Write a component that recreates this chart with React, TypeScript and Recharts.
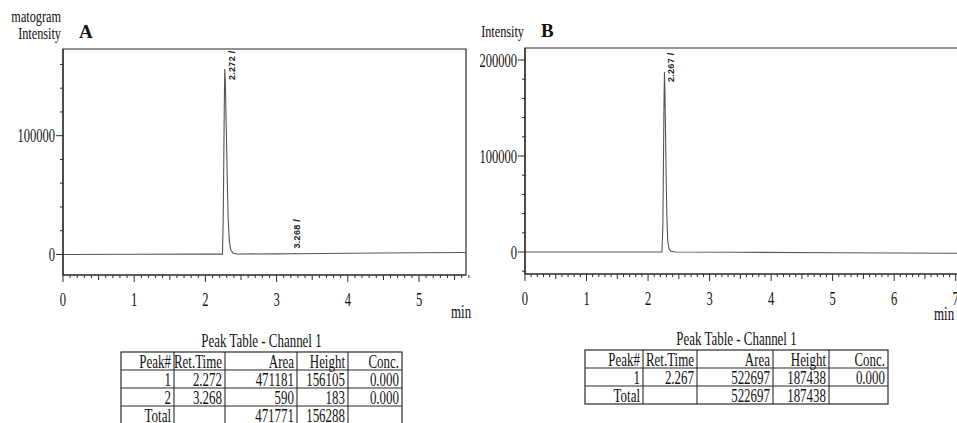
import React from 'react';
import {
  ComposedChart,
  Line,
  Scatter,
  XAxis,
  YAxis,
  ReferenceArea,
} from 'recharts';

// chromatogram A
const timeA = [0, 1.0, 2.0, 2.24, 2.25, 2.258, 2.265, 2.272, 2.28, 2.29, 2.3, 2.31, 2.32, 2.335, 2.355, 2.39, 2.45, 3.0, 3.24, 3.268, 3.3, 4.0, 5.0, 5.66];
const intensityA = [0, 200, 300, 300, 30000, 78000, 125000, 156105, 145000, 115000, 85000, 55000, 30000, 12000, 4000, 1000, 400, 500, 600, 783, 650, 1000, 1400, 1700];

// chromatogram B
const timeB = [0, 1.0, 2.0, 2.225, 2.24, 2.25, 2.258, 2.267, 2.275, 2.285, 2.295, 2.305, 2.32, 2.34, 2.37, 2.45, 3.5, 5.0, 6.0, 7.2];
const intensityB = [0, 0, 0, 0, 25000, 90000, 150000, 187438, 165000, 120000, 75000, 38000, 12000, 3500, 800, 0, -300, -700, -1000, -1400];

const peakTimesA = [2.272, 3.268];
const peakHeightsA = [156105, 783];
const peakNamesA = ['2.272 /', '3.268 /'];
const peakTimesB = [2.267];
const peakHeightsB = [187438];
const peakNamesB = ['2.267 /'];

const xLabelsA = [0, 1, 2, 3, 4, 5];
const xLabelsB = [0, 1, 2, 3, 4, 5, 6, 7];
const yTicksA = [0, 20000, 40000, 60000, 80000, 100000, 120000, 140000, 160000];
const yLabelsA = [0, 100000];
const yTicksB = [-20000, 0, 20000, 40000, 60000, 80000, 100000, 120000, 140000, 160000, 180000, 200000];
const yLabelsB = [0, 100000, 200000];

const tableHeaders = ['Peak#', 'Ret.Time', 'Area', 'Height', 'Conc.'];
const rowsA = [
  ['1', '2.272', '471181', '156105', '0.000'],
  ['2', '3.268', '590', '183', '0.000'],
  ['Total', '', '471771', '156288', ''],
];
const rowsB = [
  ['1', '2.267', '522697', '187438', '0.000'],
  ['Total', '', '522697', '187438', ''],
];

const INK = '#2a2a2a';
const SERIF = '"Liberation Serif", "DejaVu Serif", serif';
const SANS = '"Liberation Sans", Arial, sans-serif';
const SQUEEZE = 0.7;
const AXIS_SQUEEZE = 0.66;

const tenths = (max: number) => Array.from({ length: Math.round(max * 10) + 1 }, (_, i) => i / 10);

const near = (a: number, b: number) => Math.abs(a - b) < 1e-6;

const makeXTick = (labels: number[]) => (props: any) => {
  const { x, y, payload } = props;
  const v = payload.value as number;
  const isMajor = labels.some((l) => near(l, v));
  const isHalf = near(v * 2, Math.round(v * 2));
  const len = isMajor ? 7 : isHalf ? 5 : 3;
  return (
    <g>
      <line x1={x} x2={x} y1={y} y2={y + len} stroke={INK} strokeWidth={1} />
      {isMajor && (
        <text
          transform={`translate(${x},${y + 31}) scale(${AXIS_SQUEEZE},1)`}
          textAnchor="middle"
          fontFamily={SERIF}
          fontSize={19}
          fill="#111"
        >
          {v}
        </text>
      )}
    </g>
  );
};

const makeYTick = (labels: number[]) => (props: any) => {
  const { x, y, payload } = props;
  const v = payload.value as number;
  const isMajor = labels.includes(v);
  const len = isMajor ? 7 : 3;
  return (
    <g>
      <line x1={x - len} x2={x} y1={y} y2={y} stroke={INK} strokeWidth={1} />
      {isMajor && (
        <text
          transform={`translate(${x - 8},${y + 6.5}) scale(${AXIS_SQUEEZE},1)`}
          textAnchor="end"
          fontFamily={SERIF}
          fontSize={19}
          fill="#111"
        >
          {v}
        </text>
      )}
    </g>
  );
};

const makePeakLabel = (offsets: number[][]) => (props: any) => {
  const { cx, cy, index, payload } = props;
  const [dx, dy] = offsets[index] ?? [0, 0];
  return (
    <text
      transform={`translate(${cx + dx},${cy + dy}) rotate(-90)`}
      fontFamily={SANS}
      fontSize={9}
      fontWeight="bold"
      letterSpacing={0.3}
      fill="#222"
    >
      {payload.name}
    </text>
  );
};

type PanelProps = {
  left: number;
  width: number;
  height: number;
  margin: { top: number; right: number; bottom: number; left: number };
  yAxisWidth: number;
  xMax: number;
  yDomain: [number, number];
  times: number[];
  values: number[];
  peakTimes: number[];
  peakHeights: number[];
  peakNames: string[];
  labelOffsets: number[][];
  xLabels: number[];
  yTicks: number[];
  yLabels: number[];
};

const Chromatogram = (p: PanelProps) => {
  const data = p.times.map((t, i) => ({ t, v: p.values[i] }));
  const peaks = p.peakTimes.map((t, i) => ({ t, v: p.peakHeights[i], name: p.peakNames[i] }));
  return (
    <div style={{ position: 'absolute', left: p.left, top: 0 }}>
      <ComposedChart width={p.width} height={p.height} margin={p.margin}>
        <XAxis
          dataKey="t"
          type="number"
          domain={[0, p.xMax]}
          allowDataOverflow
          ticks={tenths(p.xMax)}
          interval={0}
          tickSize={0}
          tickMargin={0}
          tickLine={false}
          axisLine={{ stroke: INK, strokeWidth: 1.2 }}
          tick={makeXTick(p.xLabels)}
          height={40}
        />
        <YAxis
          type="number"
          domain={p.yDomain}
          allowDataOverflow
          ticks={p.yTicks}
          interval={0}
          tickSize={0}
          tickMargin={0}
          tickLine={false}
          axisLine={{ stroke: INK, strokeWidth: 1.2 }}
          tick={makeYTick(p.yLabels)}
          width={p.yAxisWidth}
        />
        <ReferenceArea
          x1={0}
          x2={p.xMax}
          y1={p.yDomain[0]}
          y2={p.yDomain[1]}
          fill="none"
          fillOpacity={0}
          stroke={INK}
          strokeWidth={1.2}
        />
        <Line
          data={data}
          dataKey="v"
          type="linear"
          stroke="#555"
          strokeWidth={1.1}
          dot={false}
          isAnimationActive={false}
        />
        <Scatter
          data={peaks}
          dataKey="v"
          shape={makePeakLabel(p.labelOffsets)}
          isAnimationActive={false}
        />
      </ComposedChart>
    </div>
  );
};

const SqText = ({ x, y, anchor = 'start', size = 18.5, children }: { x: number; y: number; anchor?: string; size?: number; children: React.ReactNode }) => (
  <text
    transform={`translate(${x},${y}) scale(${SQUEEZE},1)`}
    textAnchor={anchor}
    fontFamily={SERIF}
    fontSize={size}
    fill="#111"
  >
    {children}
  </text>
);

const PeakTable = ({ x, y, widths, rows, title }: { x: number; y: number; widths: number[]; rows: string[][]; title: string }) => {
  const rowH = 18;
  const all = [tableHeaders, ...rows];
  const edges = widths.reduce<number[]>((acc, w) => [...acc, acc[acc.length - 1] + w], [x]);
  const right = edges[edges.length - 1];
  const bottom = y + rowH * all.length;
  return (
    <g>
      <SqText x={(x + right) / 2} y={y - 5} anchor="middle">{title}</SqText>
      <rect x={x} y={y} width={right - x} height={bottom - y} fill="none" stroke={INK} strokeWidth={1.2} />
      {edges.slice(1, -1).map((e) => (
        <line key={e} x1={e} x2={e} y1={y} y2={bottom} stroke={INK} strokeWidth={1.1} />
      ))}
      {all.slice(1).map((_, i) => (
        <line key={i} x1={x} x2={right} y1={y + rowH * (i + 1)} y2={y + rowH * (i + 1)} stroke={INK} strokeWidth={1.1} />
      ))}
      {all.map((row, r) =>
        row.map((cell, c) =>
          cell ? (
            <SqText key={`${r}-${c}`} x={edges[c + 1] - 3} y={y + rowH * r + 16} anchor="end">
              {cell}
            </SqText>
          ) : null,
        ),
      )}
    </g>
  );
};

export default function App() {
  return (
    <div style={{ position: 'relative', width: 957, height: 423, overflow: 'hidden', background: '#fff' }}>
      <style>{'body{margin:0}'}</style>
      <Chromatogram
        left={0}
        width={480}
        height={330}
        margin={{ top: 49, right: 14, bottom: 15, left: 3 }}
        yAxisWidth={60}
        xMax={5.66}
        yDomain={[-17300, 173000]}
        times={timeA}
        values={intensityA}
        peakTimes={peakTimesA}
        peakHeights={peakHeightsA}
        peakNames={peakNamesA}
        labelOffsets={[[10, 11], [4, -5]]}
        xLabels={xLabelsA}
        yTicks={yTicksA}
        yLabels={yLabelsA}
      />
      <Chromatogram
        left={470}
        width={500}
        height={330}
        margin={{ top: 48, right: 2, bottom: 16, left: 3 }}
        yAxisWidth={52}
        xMax={7.2}
        yDomain={[-22900, 212500]}
        times={timeB}
        values={intensityB}
        peakTimes={peakTimesB}
        peakHeights={peakHeightsB}
        peakNames={peakNamesB}
        labelOffsets={[[10, 10]]}
        xLabels={xLabelsB}
        yTicks={yTicksB}
        yLabels={yLabelsB}
      />
      <svg width={957} height={423} style={{ position: 'absolute', left: 0, top: 0, pointerEvents: 'none' }}>
        <SqText x={61} y={22} anchor="end" size={17.5}>matogram</SqText>
        <SqText x={61} y={39} anchor="end" size={17.5}>Intensity</SqText>
        <text x={79} y={38} fontFamily={SERIF} fontSize={19} fontWeight="bold" fill="#111">A</text>
        <SqText x={524} y={37} anchor="end" size={17.5}>Intensity</SqText>
        <text x={541} y={37} fontFamily={SERIF} fontSize={19} fontWeight="bold" fill="#111">B</text>
        <SqText x={451} y={318}>min</SqText>
        <SqText x={934} y={320}>min</SqText>
        <PeakTable x={121} y={352} widths={[53, 51, 72, 51, 54]} rows={rowsA} title="Peak Table - Channel 1" />
        <PeakTable x={585} y={350} widths={[58, 54, 76, 56, 59]} rows={rowsB} title="Peak Table - Channel 1" />
      </svg>
    </div>
  );
}
